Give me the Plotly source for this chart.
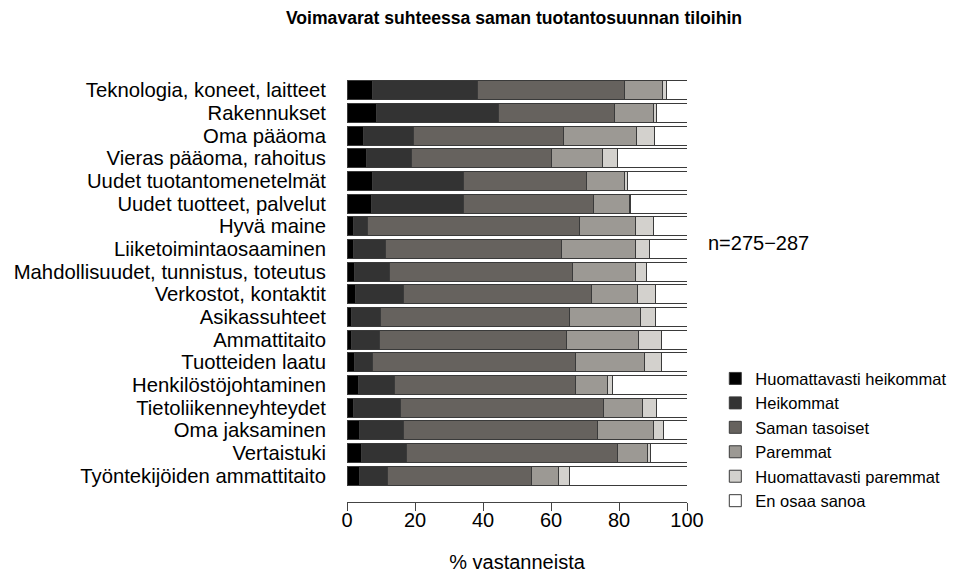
import plotly.graph_objects as go

categories = [
    "Teknologia, koneet, laitteet", "Rakennukset", "Oma pääoma",
    "Vieras pääoma, rahoitus", "Uudet tuotantomenetelmät", "Uudet tuotteet, palvelut",
    "Hyvä maine", "Liiketoimintaosaaminen", "Mahdollisuudet, tunnistus, toteutus",
    "Verkostot, kontaktit", "Asikassuhteet", "Ammattitaito", "Tuotteiden laatu",
    "Henkilöstöjohtaminen", "Tietoliikenneyhteydet", "Oma jaksaminen",
    "Vertaistuki", "Työntekijöiden ammattitaito",
]

huom_heikommat = [7.4, 8.6, 4.8, 5.6, 7.5, 7.1, 1.8, 1.8, 2.2, 2.6, 1.4, 1.4, 2.1, 3.5, 1.8, 3.6, 4.2, 3.6]
heikommat = [31.1, 36.1, 14.8, 13.4, 26.7, 27.3, 4.1, 9.6, 10.3, 14.1, 8.5, 8.2, 5.4, 10.6, 14.0, 13.1, 13.4, 8.2]
saman_tasoiset = [43.0, 34.1, 44.2, 41.2, 36.1, 38.1, 62.5, 51.7, 53.9, 55.3, 55.4, 55.0, 59.8, 53.0, 59.5, 57.1, 62.1, 42.4]
paremmat = [11.4, 11.4, 21.4, 14.8, 11.2, 10.6, 16.5, 21.8, 18.5, 13.4, 21.1, 21.0, 20.2, 9.4, 11.7, 16.4, 8.7, 7.9]
huom_paremmat = [1.1, 0.8, 5.1, 4.7, 1.0, 0.4, 5.1, 4.1, 3.1, 5.4, 4.4, 6.8, 5.0, 1.6, 4.1, 3.0, 0.8, 3.2]
en_osaa = [6.0, 9.0, 9.7, 20.3, 17.5, 16.5, 10.0, 11.0, 12.0, 9.2, 9.2, 7.6, 7.5, 21.9, 8.9, 6.8, 10.8, 34.7]

series_names = ["Huomattavasti heikommat", "Heikommat", "Saman tasoiset",
                "Paremmat", "Huomattavasti paremmat", "En osaa sanoa"]
series_values = [huom_heikommat, heikommat, saman_tasoiset, paremmat, huom_paremmat, en_osaa]
series_colors = ["#000000", "#333333", "#66625e", "#9c9994", "#d3d1cd", "#ffffff"]

x_ticks = [0, 20, 40, 60, 80, 100]

FONT = "Liberation Sans, Arial, sans-serif"

# The page body adds an 8px offset; work in figure pixels (= target - 8)
OFF = 8
W, H = 961 - OFF, 574 - OFF
plot_l, plot_r = 346.7 - OFF, 686.7 - OFF
plot_t, plot_b = 75 - OFF, 501.7 - OFF
pw, ph = plot_r - plot_l, plot_b - plot_t


def px_x(px):
    return (px - OFF - plot_l) / pw


def px_y(py):
    return (plot_b - (py - OFF)) / ph


fig = go.Figure()
for name, vals, col in zip(series_names, series_values, series_colors):
    fig.add_trace(go.Bar(
        y=categories, x=vals, name=name, orientation="h",
        marker=dict(color=col, line=dict(color="#3a3a3a", width=1)),
    ))

pitch = 22.65
first_center = 90.3
r_top = (75 - first_center) / pitch
r_bot = (501.7 - first_center) / pitch

fig.update_layout(
    width=W, height=H,
    barmode="stack", bargap=0.15,
    plot_bgcolor="white", paper_bgcolor="white",
    font=dict(family=FONT, size=20, color="black"),
    margin=dict(l=plot_l, r=W - plot_r, t=plot_t, b=H - plot_b, pad=0, autoexpand=False),
    title=dict(text="<b>Voimavarat suhteessa saman tuotantosuunnan tiloihin</b>",
               x=(514 - OFF) / W, xanchor="center", y=1 - (18 - OFF) / H, yanchor="middle",
               font=dict(size=17.6, family=FONT, color="black")),
    xaxis=dict(range=[0, 100], tickmode="array", tickvals=x_ticks,
               ticktext=[str(t) for t in x_ticks],
               showline=True, linecolor="#444444", linewidth=1,
               ticks="outside", ticklen=8, tickcolor="#444444",
               showgrid=False, zeroline=False, fixedrange=True,
               tickfont=dict(size=20), automargin=False, ticklabelstandoff=-8,
               title=dict(text="% vastanneista", font=dict(size=20), standoff=24)),
    yaxis=dict(categoryorder="array", categoryarray=categories,
               tickmode="array", tickvals=categories, ticktext=categories,
               range=[r_bot, r_top], showgrid=False, zeroline=False,
               showline=False, ticks="", ticklabelstandoff=20,
               tickfont=dict(size=20.3), automargin=False),
    legend=dict(x=px_x(715), xanchor="left", y=px_y(361), yanchor="top",
                traceorder="normal", font=dict(size=16.5),
                itemwidth=30, bgcolor="rgba(0,0,0,0)", tracegroupgap=0),
    showlegend=True,
)

fig.add_annotation(text="n=275\u2212287", x=px_x(706), y=px_y(243),
                   xref="paper", yref="paper", xanchor="left", yanchor="middle",
                   showarrow=False, font=dict(size=20, family=FONT, color="black"))

fig.write_html("out.html")
